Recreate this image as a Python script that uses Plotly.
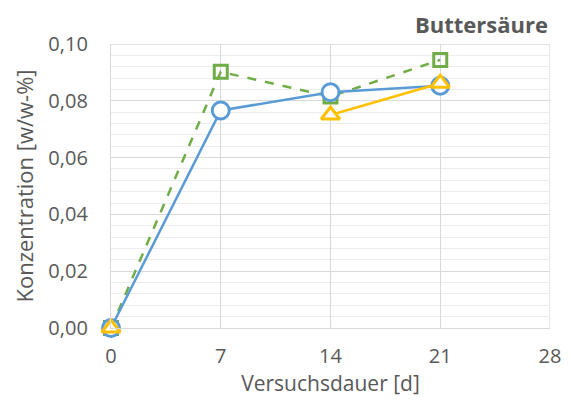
import plotly.graph_objects as go

days = [0, 7, 14, 21]
blue_vals = [0.0, 0.0766, 0.0830, 0.0853]
green_vals = [0.0, 0.0902, 0.0815, 0.0944]
yellow_vals = [0.0, None, 0.0750, 0.0862]

x_ticks = [0, 7, 14, 21, 28]
y_ticks = [0.0, 0.02, 0.04, 0.06, 0.08, 0.10]

font_fam = "Open Sans, Liberation Sans, sans-serif"
grey = "#595959"

fig = go.Figure()
fig.add_trace(go.Scatter(
    x=days, y=green_vals, mode="lines+markers", cliponaxis=False,
    line=dict(color="#70AD47", width=2.5, dash="dash"),
    marker=dict(symbol="square-open", size=13, color="#70AD47", line=dict(width=3)),
    showlegend=False))
fig.add_trace(go.Scatter(
    x=days, y=blue_vals, mode="lines+markers", cliponaxis=False,
    line=dict(color="#5B9BD5", width=2.5),
    marker=dict(symbol="circle", size=17, color="white", line=dict(color="#5B9BD5", width=3)),
    showlegend=False))
fig.add_trace(go.Scatter(
    x=days, y=yellow_vals, mode="lines+markers", connectgaps=False, cliponaxis=False,
    line=dict(color="#FFC000", width=2.5),
    marker=dict(symbol="triangle-up", size=16, color="white", line=dict(color="#FFC000", width=3)),
    showlegend=False))

# page body has an 8px margin; figure sized so the page fits the window
fig.update_layout(
    width=555, height=389,
    margin=dict(l=103, r=13, t=36, b=69),
    paper_bgcolor="white", plot_bgcolor="white",
    separators=",.",
    font=dict(family=font_fam, color=grey, size=20),
    annotations=[dict(text="<b>Buttersäure</b>", x=1.0, xref="paper", xanchor="right",
                      y=1.0, yref="paper", yanchor="middle", yshift=20,
                      showarrow=False, font=dict(size=22, color=grey, family=font_fam))],
)
fig.update_xaxes(
    range=[0, 28], tickvals=x_ticks, ticktext=[str(v) for v in x_ticks],
    showgrid=True, gridcolor="#D9D9D9", gridwidth=1.3,
    showline=True, linecolor="#D9D9D9", linewidth=1.3,
    zeroline=False, ticks="", ticklabelstandoff=10,
    title=dict(text="Versuchsdauer [d]", font=dict(size=21), standoff=8),
    tickfont=dict(size=20), automargin=False,
)
fig.update_yaxes(
    range=[0, 0.10], tickvals=y_ticks, tickformat=".2f",
    showgrid=True, gridcolor="#D9D9D9", gridwidth=1.3,
    showline=True, linecolor="#D9D9D9", linewidth=1.3,
    zeroline=False, ticks="", ticklabelstandoff=18,
    minor=dict(dtick=0.004, showgrid=True, gridcolor="#ECECEC", gridwidth=1.3, tick0=0),
    title=dict(text="Konzentration [w/w-%]", font=dict(size=22), standoff=8),
    tickfont=dict(size=20), automargin=False,
)
fig.add_shape(type="line", xref="x", yref="paper", x0=28, x1=28, y0=0, y1=1,
              line=dict(color="#D9D9D9", width=1.3), layer="below")
fig.add_shape(type="line", xref="paper", yref="y", x0=0, x1=1, y0=0.10, y1=0.10,
              line=dict(color="#D9D9D9", width=1.3), layer="below")

fig.write_html("out.html")
